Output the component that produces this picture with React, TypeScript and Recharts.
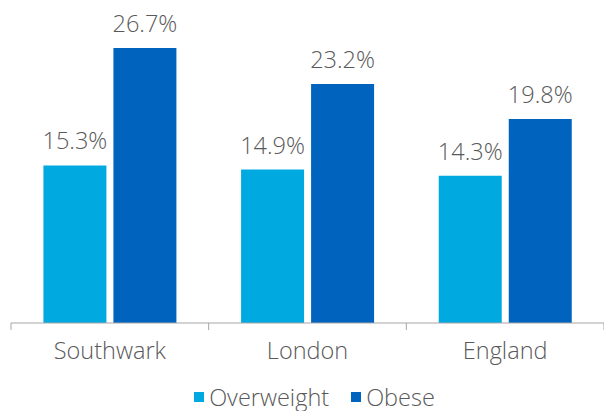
import { BarChart, Bar, XAxis, YAxis, Legend, LabelList } from "recharts";

const areas = ["Southwark", "London", "England"];
const overweight = [15.3, 14.9, 14.3];
const obese = [26.7, 23.2, 19.8];

const seriesNames = ["Overweight", "Obese"];
const seriesColors = ["#00A9E0", "#0063BE"];

const data = areas.map((area, i) => ({ area, overweight: overweight[i], obese: obese[i] }));

const FONT = "'Open Sans', 'Noto Sans', sans-serif";
const FS = 23.5;
const TEXT = "#595959";
const AXIS = "#A6A6A6";
const W = 604;
const LEFT = 11;

// category label plus the small ticks that sit on the category boundaries
function AreaTick(props: any) {
  const { x, y, payload, index } = props;
  const half = payload.offset || (W - LEFT) / areas.length / 2;
  const axisY = y - 19;
  return (
    <g>
      <line x1={x - half} x2={x - half} y1={axisY} y2={axisY + 7} stroke={AXIS} />
      {index === areas.length - 1 && <line x1={x + half} x2={x + half} y1={axisY} y2={axisY + 7} stroke={AXIS} />}
      <text x={x} y={y} dy={FS * 0.71} textAnchor="middle" fill={TEXT} fontSize={FS} fontFamily={FONT} fontWeight={300}>
        {payload.value}
      </text>
    </g>
  );
}

function LegendContent() {
  return (
    <div style={{ display: "flex", justifyContent: "center", alignItems: "center", paddingLeft: 14, fontFamily: FONT, fontSize: FS, fontWeight: 300, color: TEXT }}>
      {seriesNames.map((name, i) => (
        <div key={name} style={{ display: "flex", alignItems: "center", marginRight: i === 0 ? 22 : 0 }}>
          <span style={{ width: 10, height: 10, background: seriesColors[i], marginRight: 5, display: "inline-block" }} />
          <span style={{ lineHeight: "24px" }}>{name}</span>
        </div>
      ))}
    </div>
  );
}

export default function App() {
  const fmt = (v: number) => `${v.toFixed(1)}%`;
  return (
    <div style={{ position: "absolute", left: 0, top: 0 }}>
      <BarChart width={W} height={411} data={data} margin={{ top: 14, right: 0, bottom: 0, left: LEFT }} barCategoryGap="16.4%" barGap={7}>
        <XAxis dataKey="area" stroke={AXIS} tickLine={false} tickSize={0} tickMargin={19} height={62} interval={0} tick={<AreaTick />} />
        <YAxis hide domain={[0, 30]} />
        <Legend verticalAlign="bottom" height={26} content={<LegendContent />} />
        <Bar dataKey="overweight" name={seriesNames[0]} fill={seriesColors[0]} isAnimationActive={false}>
          <LabelList dataKey="overweight" position="top" offset={16} formatter={fmt} fill={TEXT} fontSize={FS} fontFamily={FONT} fontWeight={300} />
        </Bar>
        <Bar dataKey="obese" name={seriesNames[1]} fill={seriesColors[1]} isAnimationActive={false}>
          <LabelList dataKey="obese" position="top" offset={16} formatter={fmt} fill={TEXT} fontSize={FS} fontFamily={FONT} fontWeight={300} />
        </Bar>
      </BarChart>
    </div>
  );
}
